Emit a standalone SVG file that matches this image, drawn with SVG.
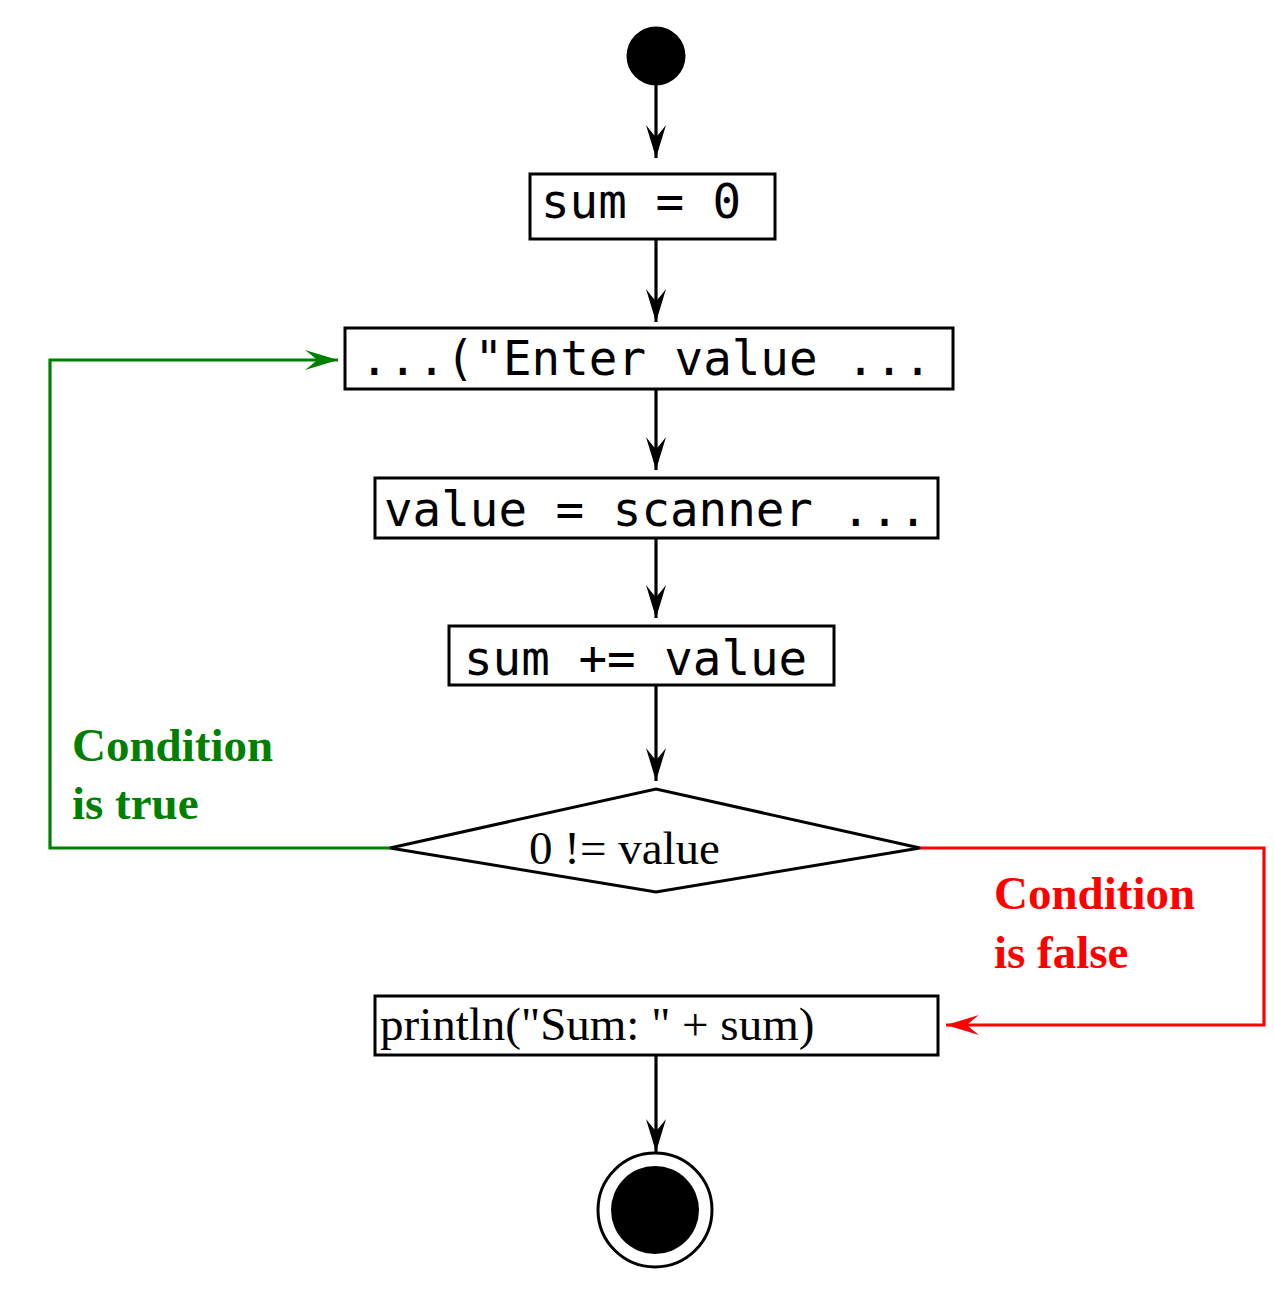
<svg xmlns="http://www.w3.org/2000/svg" width="1274" height="1291" viewBox="0 0 1274 1291">
  <style>
    .box { fill: #ffffff; stroke: #000000; stroke-width: 3; }
    .code { font-family: "DejaVu Sans Mono", monospace; font-size: 47.5px; fill: #000000; }
    .serif { font-family: "Liberation Serif", "Times New Roman", serif; font-size: 47px; fill: #000000; }
    .label { font-family: "Liberation Serif", "Times New Roman", serif; font-size: 47px; font-weight: bold; }
    .flow { fill: none; stroke-width: 3.2; }
  </style>
  <defs>
    <marker id="arrow-black" markerUnits="userSpaceOnUse" viewBox="-34 -11 35 22" refX="0" refY="0" markerWidth="35" markerHeight="22" orient="auto">
      <path d="M0,0 L-33,-10 Q-24,-3 -21,0 Q-24,3 -33,10 Z" fill="#000000"/>
    </marker>
    <marker id="arrow-green" markerUnits="userSpaceOnUse" viewBox="-34 -11 35 22" refX="0" refY="0" markerWidth="35" markerHeight="22" orient="auto">
      <path d="M0,0 L-33,-10 Q-24,-3 -21,0 Q-24,3 -33,10 Z" fill="#008000"/>
    </marker>
    <marker id="arrow-red" markerUnits="userSpaceOnUse" viewBox="-34 -11 35 22" refX="0" refY="0" markerWidth="35" markerHeight="22" orient="auto">
      <path d="M0,0 L-33,-10 Q-24,-3 -21,0 Q-24,3 -33,10 Z" fill="#ff0000"/>
    </marker>
  </defs>

  <rect width="1274" height="1291" fill="#ffffff"/>

  <!-- connectors -->
  <g id="connectors">
    <g class="flow" stroke="#000000" marker-end="url(#arrow-black)">
      <line x1="656" y1="85" x2="656" y2="158"/>
      <line x1="656" y1="240" x2="656" y2="322"/>
      <line x1="656" y1="390" x2="656" y2="470"/>
      <line x1="656" y1="538" x2="656" y2="618"/>
      <line x1="656" y1="686" x2="656" y2="781"/>
      <line x1="656" y1="1055" x2="656" y2="1152"/>
    </g>
    <polyline class="flow" stroke="#008000" points="390,848 50,848 50,360 338,360" marker-end="url(#arrow-green)"/>
    <polyline class="flow" stroke="#ff0000" points="920,848 1264,848 1264,1025 946,1025" marker-end="url(#arrow-red)"/>
    <text class="label" fill="#008000" x="72" y="761">Condition</text>
    <text class="label" fill="#008000" x="72" y="819">is true</text>
    <text class="label" fill="#ff0000" x="994" y="909">Condition</text>
    <text class="label" fill="#ff0000" x="994" y="968">is false</text>
  </g>

  <!-- start node -->
  <g id="start">
    <circle cx="656" cy="56" r="29.5" fill="#000000"/>
  </g>

  <g id="init-sum">
    <rect class="box" x="530" y="174" width="245" height="65"/>
    <text class="code" x="541" y="218" xml:space="preserve">sum = 0</text>
  </g>

  <g id="prompt">
    <rect class="box" x="345" y="328" width="608" height="61"/>
    <text class="code" x="360" y="375" xml:space="preserve">...("Enter value ...</text>
  </g>

  <g id="read-value">
    <rect class="box" x="375" y="478" width="563" height="60"/>
    <text class="code" x="384" y="526" xml:space="preserve">value = scanner ...</text>
  </g>

  <g id="accumulate">
    <rect class="box" x="449" y="626" width="385" height="59"/>
    <text class="code" x="464" y="675" xml:space="preserve">sum += value</text>
  </g>

  <g id="decision">
    <polygon points="390,848 656,789 920,848 656,892" fill="#ffffff" stroke="#000000" stroke-width="3"/>
    <text class="serif" x="529" y="864" xml:space="preserve">0 != value</text>
  </g>

  <g id="print-sum">
    <rect class="box" x="375" y="996" width="563" height="59"/>
    <text class="serif" x="380" y="1040" xml:space="preserve">println("Sum: " + sum)</text>
  </g>

  <!-- end node -->
  <g id="end">
    <circle cx="655" cy="1210" r="57" fill="#ffffff" stroke="#000000" stroke-width="3"/>
    <circle cx="655" cy="1210" r="44" fill="#000000"/>
  </g>
</svg>
